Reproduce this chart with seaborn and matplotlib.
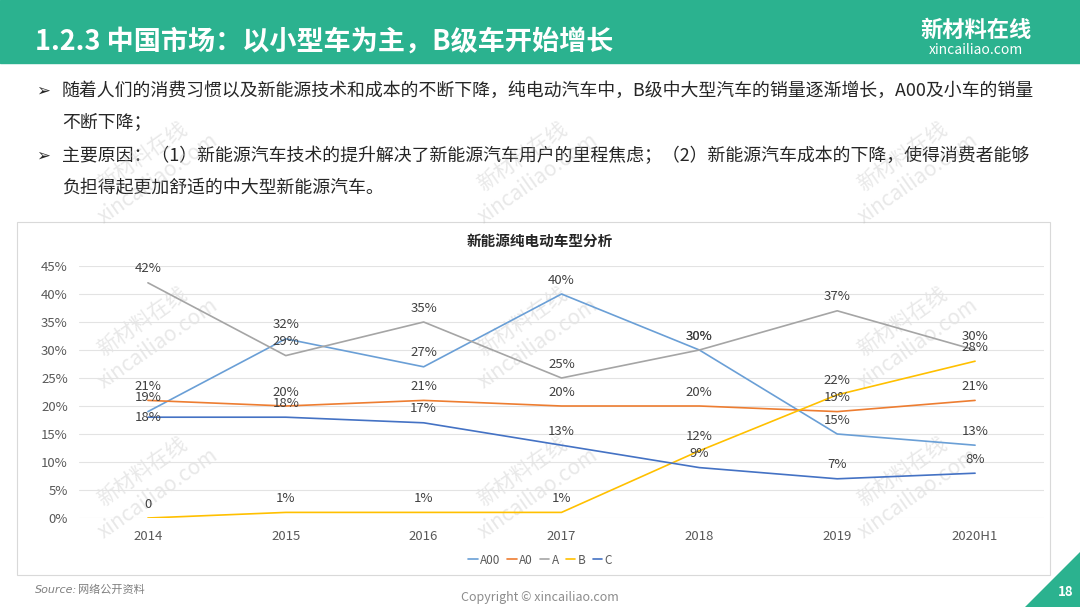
import matplotlib
matplotlib.use("Agg")
import matplotlib.pyplot as plt
import seaborn as sns
import pandas as pd
from matplotlib.patches import Rectangle, Polygon
from matplotlib.ticker import FuncFormatter

# 数据（%）
years = ['2014', '2015', '2016', '2017', '2018', '2019', '2020H1']
a00 = [19, 32, 27, 40, 30, 15, 13]
a0 = [21, 20, 21, 20, 20, 19, 21]
a = [42, 29, 35, 25, 30, 37, 30]
b = [0, 1, 1, 1, 12, 22, 28]
c = [18, 18, 17, 13, 9, 7, 8]
series_names = ['A00', 'A0', 'A', 'B', 'C']
series_colors = ['#6A9FD6', '#ED7D31', '#A5A5A5', '#FFC000', '#4472C4']
y_ticks = [0, 5, 10, 15, 20, 25, 30, 35, 40, 45]

title_text = '1.2.3 中国市场：以小型车为主，B级车开始增长'
bullet_lines = [
    ('➢', '随着人们的消费习惯以及新能源技术和成本的不断下降，纯电动汽车中，B级中大型汽车的销量逐渐增长，A00及小车的销量'),
    ('', '不断下降；'),
    ('➢', '主要原因：（1）新能源汽车技术的提升解决了新能源汽车用户的里程焦虑；（2）新能源汽车成本的下降，使得消费者能够'),
    ('', '负担得起更加舒适的中大型新能源汽车。'),
]
chart_title = '新能源纯电动车型分析'

sns.set_theme(style='white')
plt.rcParams['font.family'] = ['Noto Sans CJK SC', 'DejaVu Sans']
plt.rcParams['axes.unicode_minus'] = False

W, H = 1080, 607
fig = plt.figure(figsize=(W / 100, H / 100), dpi=100)
fig.patch.set_facecolor('white')

# 背景层（像素坐标）
bg = fig.add_axes([0, 0, 1, 1])
bg.set_xlim(0, W)
bg.set_ylim(H, 0)
bg.axis('off')

teal = '#2BB28F'
bg.add_patch(Rectangle((0, 0), W, 63, color=teal, zorder=1))
bg.text(35, 42, title_text, color='white', fontsize=19.5, fontweight='bold', va='center', ha='left')
bg.text(976, 30, '新材料在线', color='white', fontsize=16, fontweight='bold', va='center', ha='center')
bg.text(976, 50, 'xincailiao.com', color='white', fontsize=10, va='center', ha='center')

line_y = [91, 123, 156, 188]
for (mark, txt), yy in zip(bullet_lines, line_y):
    if mark:
        bg.text(36, yy, mark, fontsize=12, color='#262626', va='center', ha='left',
                family=['DejaVu Sans'])
    bg.text(62, yy, txt, fontsize=12.9, color='#262626', va='center', ha='left')

# 图表框
bg.add_patch(Rectangle((17, 222), 1033, 353, facecolor='white', edgecolor='#D9D9D9', lw=0.8, zorder=1))
bg.text(540, 241, chart_title, fontsize=10.5, fontweight='bold', color='#262626', ha='center', va='center')

# 底部
bg.text(35, 590, 'Source:', fontsize=8, color='#7F7F7F', style='italic', va='center', ha='left',
        family=['DejaVu Sans'])
bg.text(78, 590, '网络公开资料', fontsize=8, color='#7F7F7F', va='center', ha='left')
bg.text(540, 597, 'Copyright © xincailiao.com', fontsize=9, color='#8C8C8C', va='center', ha='center')
bg.add_patch(Polygon([(1080, 552), (1080, 607), (1025, 607)], closed=True, color=teal, zorder=1))
bg.text(1066, 592, '18', color='white', fontsize=9.5, fontweight='bold', ha='center', va='center')

# 折线图
df = pd.DataFrame({'年份': years * 5,
                   '占比': a00 + a0 + a + b + c,
                   '车型': sum([[n] * len(years) for n in series_names], [])})

ax = fig.add_axes([79 / W, (H - 518) / H, 965 / W, 252 / H])
ax.patch.set_alpha(0)
sns.lineplot(data=df, x='年份', y='占比', hue='车型', hue_order=series_names,
             palette=series_colors, linewidth=1.2, sort=False, ax=ax)

ax.set_xlim(-0.5, len(years) - 0.5)
ax.set_ylim(0, 45)
ax.set_yticks(y_ticks)
ax.yaxis.set_major_formatter(FuncFormatter(lambda v, p: f'{v:.0f}%'))
ax.grid(True, axis='y', color='#E3E3E3', lw=0.8)
ax.grid(False, axis='x')
ax.set_axisbelow(True)
for s in ax.spines.values():
    s.set_visible(False)
ax.set_xlabel('')
ax.set_ylabel('')
ax.tick_params(axis='both', length=0, labelsize=9.5, labelcolor='#595959')
ax.tick_params(axis='y', pad=8)
ax.tick_params(axis='x', pad=9)

# 数据标签：默认在点上方，个别标签与原图一样放在线上
label_dy = {('C', 0): 0}
for name, vals in zip(series_names, [a00, a0, a, b, c]):
    for i, v in enumerate(vals):
        ax.annotate(f'{v}%' if v else '0', (i, v), xytext=(0, label_dy.get((name, i), 10)),
                    textcoords='offset points', ha='center', va='center',
                    fontsize=9.5, color='#404040')

handles, labels = ax.get_legend_handles_labels()
ax.legend(handles, labels, loc='center', bbox_to_anchor=(540 / W, (H - 560) / H),
          bbox_transform=fig.transFigure, ncol=5, frameon=False, fontsize=8.5,
          handlelength=0.8, handletextpad=0.2, columnspacing=0.6, labelcolor='#595959')

# 水印
for wx in [150, 530, 910]:
    for wy in [165, 330, 480]:
        bg.text(wx - 8, wy - 8, '新材料在线', fontsize=15, color='#BFBFBF', alpha=0.35,
                rotation=35, ha='center', va='center', zorder=10)
        bg.text(wx + 8, wy + 14, 'xincailiao.com', fontsize=15, color='#BFBFBF', alpha=0.35,
                rotation=35, ha='center', va='center', zorder=10)

fig.savefig('out.png', dpi=100)
